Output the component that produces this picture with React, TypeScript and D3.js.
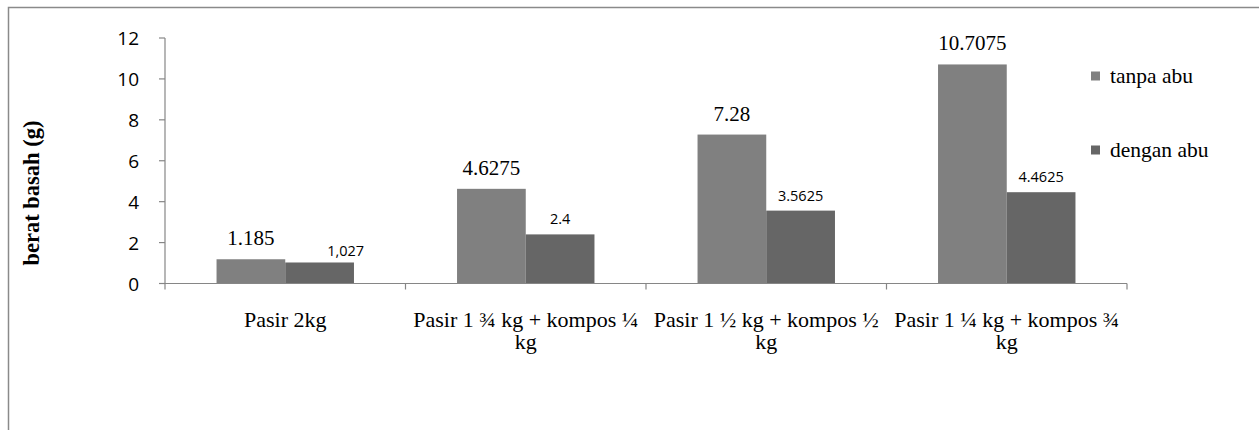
import React, { useEffect, useMemo } from "react";
import * as d3 from "d3";

const categories = [
  "Pasir 2kg",
  "Pasir 1 ¾ kg + kompos ¼ kg",
  "Pasir 1 ½ kg + kompos ½ kg",
  "Pasir 1 ¼ kg + kompos ¾ kg",
];
const seriesNames = ["tanpa abu", "dengan abu"];
const tanpaAbu = [1.185, 4.6275, 7.28, 10.7075];
const denganAbu = [1.027, 2.4, 3.5625, 4.4625];
const tanpaLabels = ["1.185", "4.6275", "7.28", "10.7075"];
const denganLabels = ["1,027", "2.4", "3.5625", "4.4625"];
const yTicks = [0, 2, 4, 6, 8, 10, 12];
const yTitle = "berat basah (g)";

const W = 1259;
const H = 430;
const SERIF = "Liberation Serif";
const SANS = "Open Sans";
const AXIS = "#868686";
const COLORS = ["#808080", "#666666"];
const CAT_FONT = 22;

function wrap(text: string, maxW: number, font: string): string[] {
  const canvas = document.createElement("canvas");
  const ctx = canvas.getContext("2d");
  if (!ctx) return [text];
  ctx.font = font;
  const words = text.split(" ");
  const lines: string[] = [];
  let cur: string[] = [];
  words.forEach((w) => {
    const trial = cur.concat([w]).join(" ");
    if (cur.length > 0 && ctx.measureText(trial).width > maxW) {
      lines.push(cur.join(" "));
      cur = [w];
    } else {
      cur.push(w);
    }
  });
  if (cur.length) lines.push(cur.join(" "));
  return lines;
}

export default function App() {
  useEffect(() => {
    document.body.style.margin = "0";
  }, []);

  const x0 = d3.scaleBand<string>().domain(categories).range([165, 1127]).paddingInner(0).paddingOuter(0);
  const bw = x0.bandwidth();
  const barW = bw / 3.5;
  const x1 = d3.scaleBand<string>().domain(seriesNames).range([0.75 * barW, bw - 0.75 * barW]).padding(0);
  const y = d3.scaleLinear().domain([0, 12]).range([283.5, 38]);
  const series = [tanpaAbu, denganAbu];

  const wrapped = useMemo(
    () => categories.map((c) => wrap(c, bw - 6, `${CAT_FONT}px "${SERIF}"`)),
    [bw]
  );

  const bounds = categories.map((c) => x0(c) as number).concat([1127]);

  return (
    <svg width={W} height={H} style={{ display: "block", background: "#fff" }}>
      <rect x={8.5} y={7.5} width={W + 20} height={H + 20} fill="none" stroke="#8a8a8a" strokeWidth={1.5} />

      <line x1={165} x2={165} y1={y(12)} y2={y(0)} stroke={AXIS} strokeWidth={1.2} />
      {yTicks.map((t) => (
        <g key={"yt" + t}>
          <line x1={159} x2={165} y1={y(t)} y2={y(t)} stroke={AXIS} strokeWidth={1.2} />
          <text x={139} y={y(t)} textAnchor="end" dominantBaseline="central" fontFamily={SANS} fontSize={19} fill="#000">
            {String(t)}
          </text>
        </g>
      ))}

      {series.map((vals, si) =>
        vals.map((v, i) => (
          <rect
            key={`b${si}-${i}`}
            x={(x0(categories[i]) as number) + (x1(seriesNames[si]) as number)}
            y={y(v)}
            width={x1.bandwidth()}
            height={y(0) - y(v)}
            fill={COLORS[si]}
          />
        ))
      )}

      <line x1={165} x2={1127} y1={y(0)} y2={y(0)} stroke={AXIS} strokeWidth={1.2} />
      {bounds.map((bx, i) => (
        <line key={"xt" + i} x1={bx} x2={bx} y1={y(0)} y2={y(0) + 6} stroke={AXIS} strokeWidth={1.2} />
      ))}

      {tanpaAbu.map((v, i) => (
        <text
          key={"lt" + i}
          x={(x0(categories[i]) as number) + (x1(seriesNames[0]) as number) + x1.bandwidth() / 2}
          y={y(v) - 14}
          textAnchor="middle"
          fontFamily={SERIF}
          fontWeight="normal"
          fontSize={21}
          fill="#000"
        >
          {tanpaLabels[i]}
        </text>
      ))}
      {denganAbu.map((v, i) => (
        <text
          key={"ld" + i}
          x={(x0(categories[i]) as number) + (x1(seriesNames[1]) as number) + x1.bandwidth() / 2 + (i === 0 ? 26 : 0)}
          y={y(v) - 10 + (i === 0 ? 4 : 0)}
          textAnchor="middle"
          fontFamily={SANS}
          fontSize={14.5}
          fill="#000"
        >
          {denganLabels[i]}
        </text>
      ))}

      {wrapped.map((lines, i) => {
        const cx = (x0(categories[i]) as number) + bw / 2;
        return (
          <text key={"cat" + i} textAnchor="middle" fontFamily={SERIF} fontWeight="normal" fontSize={CAT_FONT} fill="#000">
            {lines.map((ln, j) => (
              <tspan key={j} x={cx} y={327 + j * 22}>
                {ln}
              </tspan>
            ))}
          </text>
        );
      })}

      <text
        transform="translate(31,193) rotate(-90)"
        textAnchor="middle"
        dominantBaseline="central"
        fontFamily={SERIF}
        fontWeight="bold"
        fontSize={22.5}
        fill="#000"
      >
        {yTitle}
      </text>

      {seriesNames.map((n, i) => {
        const ly = i === 0 ? 76 : 150;
        return (
          <g key={"lg" + i}>
            <rect x={1091} y={ly - 4.5} width={9} height={9} fill={COLORS[i]} />
            <text x={1110} y={ly} dominantBaseline="central" fontFamily={SERIF} fontWeight="normal" fontSize={21.5} fill="#000">
              {n}
            </text>
          </g>
        );
      })}
    </svg>
  );
}
